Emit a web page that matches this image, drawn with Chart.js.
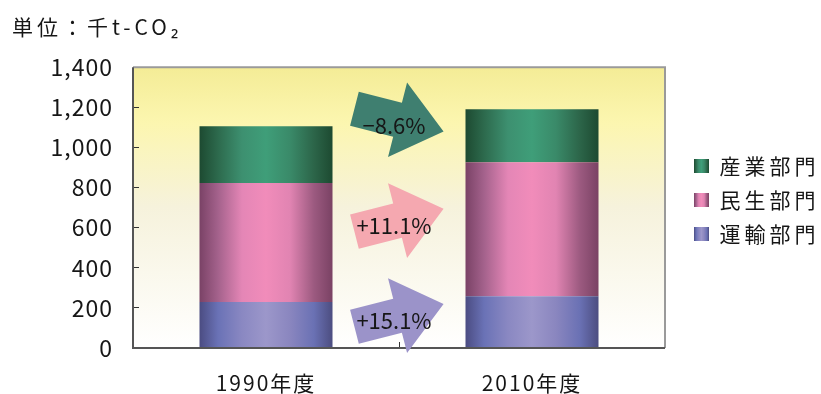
<!DOCTYPE html>
<html>
<head>
<meta charset="utf-8">
<script src="https://cdn.jsdelivr.net/npm/chart.js@4.4.1/dist/chart.umd.min.js"></script>
<style>
  html, body { margin: 0; padding: 0; background: #ffffff; }
  #wrap { width: 821px; height: 394px; }
</style>
</head>
<body>
<div id="wrap"><canvas id="c"></canvas></div>
<script>
// CO2 emissions by sector, thousand t-CO2
const categories = ['1990年度', '2010年度'];
const transport = [229, 258];    // 運輸部門
const residential = [594, 668];  // 民生部門
const industry = [283, 264];     // 産業部門
const seriesNames = ['運輸部門', '民生部門', '産業部門'];
const yTicks = [0, 200, 400, 600, 800, 1000, 1200, 1400];
const changeLabels = ['+15.1%', '+11.1%', '−8.6%'];
const unitLabel = '単位：千t-CO₂';

const FONT = "'Noto Sans CJK JP', 'Noto Sans', sans-serif";
const TEXT = '#161616';

// Cylinder-like shading: dark edges, light centre
const stopPos = [0, 0.14, 0.32, 0.5, 0.68, 0.86, 1];
const shades = [
  ['#4b4c82', '#6a72b6', '#8a88c2', '#9c97ca', '#8a86bf', '#6a71b4', '#4c4d80'],
  ['#7a4266', '#a4628c', '#e486b6', '#f18cba', '#e184b2', '#9c5a80', '#7a4264'],
  ['#1d4a31', '#2d6a4d', '#3d9070', '#3f9e79', '#3a8a69', '#2c6549', '#1d4a31']
];
const arrowColors = ['#9b93c9', '#f5a8b0', '#3f7f70'];
// vertical placement (axis units) of the change arrows between the bars
const arrowLevels = [163, 637, 1136];

function barFill(idx) {
  return (ctx) => {
    const chart = ctx.chart;
    const area = chart.chartArea;
    const cols = shades[idx];
    if (!area || ctx.type !== 'data') return cols[3];
    const xs = chart.scales.x;
    const cx = xs.getPixelForValue(ctx.dataIndex);
    const w = (area.right - area.left) / categories.length * 0.5;
    const g = chart.ctx.createLinearGradient(cx - w / 2, 0, cx + w / 2, 0);
    stopPos.forEach((p, i) => g.addColorStop(p, cols[i]));
    return g;
  };
}

const canvas = document.getElementById('c');
const mainCtx = canvas.getContext('2d');
const SW = 15;
const swatches = shades.map((cols) => {
  const c = document.createElement('canvas');
  c.width = SW; c.height = 1;
  const g = c.getContext('2d');
  const gr = g.createLinearGradient(0, 0, SW, 0);
  stopPos.forEach((p, i) => gr.addColorStop(p, cols[i]));
  g.fillStyle = gr;
  g.fillRect(0, 0, SW, 1);
  return mainCtx.createPattern(c, 'repeat');
});

const LEGEND_W = 156, LEGEND_DX = 16, LEGEND_DY = 3;

function withSpacing(obj, method, spacing, pre) {
  const orig = obj[method];
  obj[method] = function (...args) {
    const ctx = this.ctx;
    ctx.save();
    ctx.letterSpacing = spacing;
    if (pre) pre.call(this, ctx);
    orig.apply(this, args);
    ctx.restore();
  };
}

const decor = {
  id: 'decor',
  afterInit(chart) {
    const lg = chart.legend;
    const fit = lg.fit;
    lg.fit = function () {
      fit.call(this);
      if (this.options.display && !this.isHorizontal()) this.width = LEGEND_W;
    };
    withSpacing(lg, 'draw', '4px', function (ctx) {
      ctx.translate(LEGEND_DX, LEGEND_DY);
      const pad = this.options.labels.padding;
      swatches.forEach((p) => p.setTransform(new DOMMatrix().translate(this.left + pad, 0)));
    });
    if (chart.titleBlock) withSpacing(chart.titleBlock, 'draw', '4px');
  },
  beforeDraw(chart) {
    const s = { x: '2px', y: '1px' };
    Object.values(chart.scales).forEach((sc) => {
      if (!sc._spaced) { withSpacing(sc, 'drawLabels', s[sc.id] || '0px'); sc._spaced = true; }
    });
    const { ctx, chartArea: a } = chart;
    const g = ctx.createLinearGradient(0, a.top, 0, a.bottom);
    g.addColorStop(0, '#f4ec96');
    g.addColorStop(0.2, '#fcf6b0');
    g.addColorStop(0.5, '#f6f2dc');
    g.addColorStop(1, '#ffffff');
    ctx.save();
    ctx.fillStyle = g;
    ctx.fillRect(a.left, a.top, a.right - a.left, a.bottom - a.top);
    ctx.restore();
  },
  afterDatasetsDraw(chart) {
    const { ctx, chartArea: a, scales } = chart;
    ctx.save();
    // plot frame
    ctx.lineWidth = 2;
    ctx.strokeStyle = '#9a9a9a';
    ctx.beginPath();
    ctx.moveTo(a.left, a.top); ctx.lineTo(a.right, a.top); ctx.lineTo(a.right, a.bottom);
    ctx.stroke();
    ctx.strokeStyle = '#555555';
    ctx.beginPath();
    ctx.moveTo(a.left, a.top); ctx.lineTo(a.left, a.bottom); ctx.lineTo(a.right, a.bottom);
    ctx.stroke();

    // change arrows between the two years
    const series = [transport, residential, industry];
    const cx = scales.x.getPixelForValue(0.5);
    series.forEach((vals, i) => {
      const cy = scales.y.getPixelForValue(arrowLevels[i]);
      const ang = vals[1] < vals[0] ? 0.25 : -0.25;
      ctx.save();
      ctx.translate(cx, cy);
      ctx.rotate(ang);
      ctx.fillStyle = arrowColors[i];
      ctx.beginPath();
      ctx.moveTo(-46, -17.6);
      ctx.lineTo(-1.5, -17.6);
      ctx.lineTo(-1.5, -38.5);
      ctx.lineTo(46, 0);
      ctx.lineTo(-1.5, 38.5);
      ctx.lineTo(-1.5, 17.6);
      ctx.lineTo(-46, 17.6);
      ctx.closePath();
      ctx.fill();
      ctx.restore();
      ctx.fillStyle = TEXT;
      ctx.font = '22px ' + FONT;
      ctx.textAlign = 'center';
      ctx.textBaseline = 'middle';
      ctx.fillText(changeLabels[i], cx - 5, cy + 5);
    });
    ctx.restore();
  }
};

const chart = new Chart(canvas, {
  type: 'bar',
  data: {
    labels: categories,
    datasets: [
      { label: seriesNames[0], data: transport, backgroundColor: barFill(0) },
      { label: seriesNames[1], data: residential, backgroundColor: barFill(1) },
      { label: seriesNames[2], data: industry, backgroundColor: barFill(2) }
    ].map((d) => Object.assign(d, { borderWidth: 0, categoryPercentage: 0.5, barPercentage: 1 }))
  },
  options: {
    responsive: true,
    maintainAspectRatio: false,
    animation: false,
    events: [],
    layout: { padding: { left: 12, right: 0, top: 0, bottom: 0 } },
    plugins: {
      title: {
        display: true,
        text: unitLabel,
        align: 'start',
        color: TEXT,
        font: { family: FONT, size: 21, weight: 'normal' },
        padding: { top: 14, bottom: 28 }
      },
      legend: {
        position: 'right',
        align: 'center',
        reverse: true,
        labels: {
          color: TEXT,
          font: { family: FONT, size: 21 },
          boxWidth: SW,
          boxHeight: 14,
          padding: 13,
          generateLabels(ch) {
            const items = Chart.defaults.plugins.legend.labels.generateLabels(ch);
            items.forEach((it) => {
              it.fillStyle = swatches[it.datasetIndex];
              it.lineWidth = 0;
              it.strokeStyle = 'rgba(0,0,0,0)';
            });
            return items;
          }
        }
      },
      tooltip: { enabled: false }
    },
    scales: {
      x: {
        stacked: true,
        grid: { drawOnChartArea: false, drawTicks: true, tickLength: -6, color: '#333333' },
        border: { display: false },
        ticks: { color: TEXT, font: { family: FONT, size: 21 }, padding: 28 },
        afterFit(s) { s.height = 46; }
      },
      y: {
        stacked: true,
        min: 0,
        max: 1400,
        afterBuildTicks(s) { s.ticks = yTicks.map((v) => ({ value: v })); },
        grid: { drawOnChartArea: false, drawTicks: true, tickLength: -6, color: '#333333' },
        border: { display: false },
        ticks: {
          color: TEXT,
          font: { family: FONT, size: 23 },
          padding: 26,
          callback: (v) => Number(v).toLocaleString('en-US')
        },
        afterFit(s) { s.width = 121; }
      }
    }
  },
  plugins: [decor]
});
</script>
</body>
</html>
